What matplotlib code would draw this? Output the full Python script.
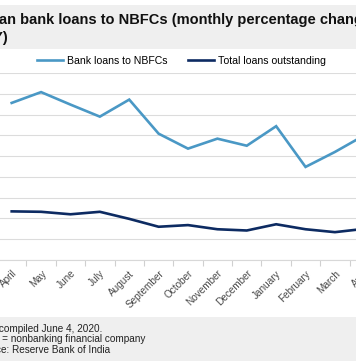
import matplotlib
matplotlib.use("Agg")
import matplotlib.pyplot as plt
from matplotlib.patches import Rectangle
import numpy as np

plt.rcParams['font.family'] = ['Liberation Sans', 'DejaVu Sans']

# data (% change, year over year)
months = ["April", "May", "June", "July", "August", "September", "October",
          "November", "December", "January", "February", "March", "April"]
bank_loans = [37.8, 40.4, 37.4, 34.5, 38.6, 30.4, 26.8, 29.2, 27.5, 32.2, 22.4, 26.0, 30.0]
total_loans = [11.7, 11.6, 11.0, 11.6, 9.9, 8.0, 8.4, 7.4, 7.1, 8.6, 7.4, 6.7, 7.5]
y_ticks = [0, 5, 10, 15, 20, 25, 30, 35, 40, 45]

title = "Indian bank loans to NBFCs (monthly percentage change\nYOY)"
notes = ["Data compiled June 4, 2020.",
         "NBFC = nonbanking financial company",
         "Source: Reserve Bank of India"]

W, H = 356, 364
fig = plt.figure(figsize=(W / 100, H / 100), dpi=100)
fig.patch.set_facecolor("white")

# grey bands for title and footnotes
band = "#efefef"
fig.patches.append(Rectangle((0, (H - 49) / H), 1, 44 / H, transform=fig.transFigure,
                             facecolor=band, edgecolor="none", zorder=0))
fig.patches.append(Rectangle((0, 3 / H), 1, 44 / H, transform=fig.transFigure,
                             facecolor=band, edgecolor="none", zorder=0))

# the chart is cropped on both sides, so the axes run past the figure edges
left_px, right_px, top_px, bot_px = -3, 379, 73, 260
ax = fig.add_axes([left_px / W, (H - bot_px) / H,
                   (right_px - left_px) / W, (bot_px - top_px) / H])

x = np.arange(len(months))
ax.plot(x, bank_loans, color="#4a98c5", lw=1.9, label="Bank loans to NBFCs",
        solid_joinstyle="miter", zorder=3)
ax.plot(x, total_loans, color="#0d2b62", lw=1.9, label="Total loans outstanding",
        solid_joinstyle="miter", zorder=3)

ax.set_xlim(-0.5, len(months) - 0.5)
ax.set_ylim(0, 45)
ax.set_yticks(y_ticks)
ax.yaxis.grid(True, color="#dcdcdc", lw=0.8)
ax.set_axisbelow(True)
# y labels sit outside the cropped area in the reference
ax.tick_params(axis="y", length=0, labelleft=False)

ax.set_xticks(x)
ax.set_xticklabels(months, rotation=45, ha="right", rotation_mode="anchor",
                   fontsize=7.2, color="#4a4a4a")
ax.tick_params(axis="x", which="major", length=0, pad=6)
ax.set_xticks(np.arange(-0.5, len(months), 1), minor=True)
ax.tick_params(axis="x", which="minor", length=4, color="#d0d0d0", width=0.8)

for s in ["top", "right", "left"]:
    ax.spines[s].set_visible(False)
ax.spines["bottom"].set_color("#d8d8d8")
ax.spines["bottom"].set_linewidth(0.8)

fig.legend(loc="center", bbox_to_anchor=(181.5 / W, (H - 61) / H), ncol=2,
           frameon=False, fontsize=7.6, handlelength=2.4, handletextpad=0.4,
           columnspacing=2.0)

fig.text(-27 / W, (H - 13) / H, title, fontsize=10.5, fontweight="bold",
         color="#111111", va="top", ha="left", linespacing=1.35)

# footnotes, the left part is cropped off as in the reference
note_x = [-25, -28, -25]
for i, (line, nx) in enumerate(zip(notes, note_x)):
    fig.text(nx / W, (H - 329 - 10.5 * i) / H, line, fontsize=7.2,
             color="#222222", va="center", ha="left")

fig.savefig("out.png", dpi=100)
